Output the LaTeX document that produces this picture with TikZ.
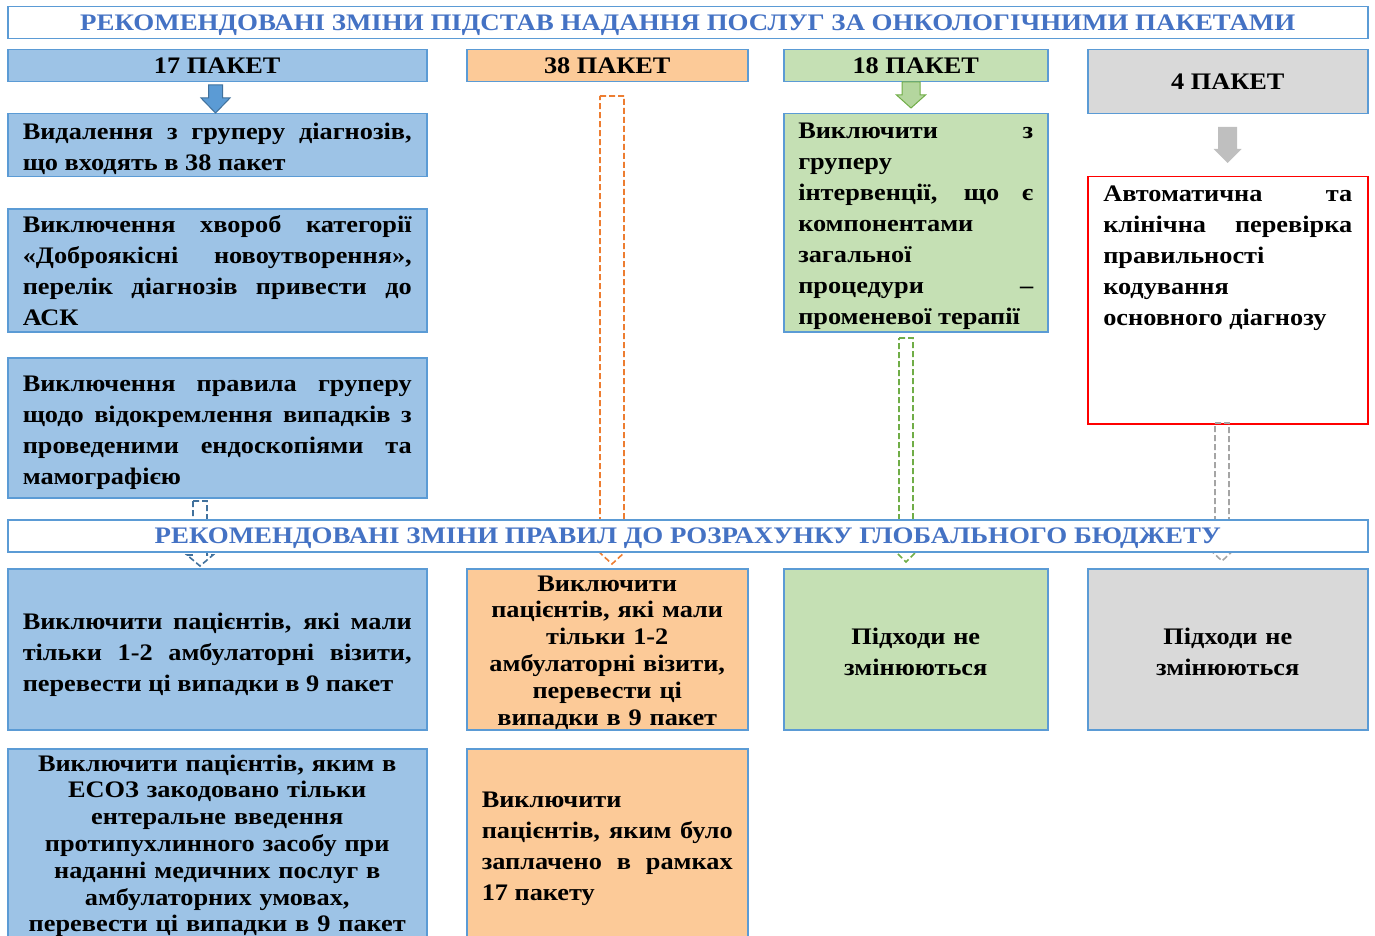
\documentclass[tikz,border=0pt]{standalone}
\usepackage{fontspec}
\setmainfont{Liberation Serif}[FakeStretch=1.11]
\usetikzlibrary{positioning,calc}
\definecolor{edgeblue}{HTML}{5B9BD5}
\definecolor{darkblue}{HTML}{41719C}
\definecolor{titleblue}{HTML}{4472C4}
\definecolor{fillblue}{HTML}{9DC3E6}
\definecolor{fillorange}{HTML}{FCCA98}
\definecolor{fillgreen}{HTML}{C5E0B4}
\definecolor{fillgray}{HTML}{D9D9D9}
\definecolor{dashorange}{HTML}{ED7D31}
\definecolor{dashgreen}{HTML}{70AD47}
\definecolor{dashgray}{HTML}{A5A5A5}
% block arrow pointing down: style, top, tip, shaft half, head half, head length
\newcommand\blockdown[6]{%
  \path[#1] let \p1=(#2), \p2=(#3) in
    (\x1-#4,\y1) -- (\x1+#4,\y1) -- (\x1+#4,\y2+#6) -- (\x1+#5,\y2+#6)
    -- (\x1,\y2) -- (\x1-#5,\y2+#6) -- (\x1-#4,\y2+#6) -- cycle;}

\begin{document}
\begin{tikzpicture}[x=1pt,y=-1pt,
  box/.style={draw=edgeblue,line width=1.5pt,anchor=north west,inner sep=0pt,
    font=\bfseries\fontsize{23.7}{31}\selectfont},
  down/.style={execute at begin node={\rule{0pt}{#1pt}}},
  head/.style={box,minimum height=32,font=\bfseries\fontsize{23.7}{28}\selectfont},
  banner/.style={box,fill=white,minimum width=1360,minimum height=32,text height=20pt,text depth=4pt,
    text=titleblue,font=\bfseries\fontsize{23.7}{28}\selectfont\addfontfeature{FakeStretch=1.135}},
  tight/.style={font=\bfseries\fontsize{23.7}{26.8}\selectfont},
  dasharrow/.style={line width=1.6pt,dash pattern=on 6pt off 3pt},
  solidarrow/.style={line width=1pt}]
\useasboundingbox (0,0) rectangle (1375,936);

% upper part
\node[banner] (t1) at (7,6) {РЕКОМЕНДОВАНІ ЗМІНИ ПІДСТАВ НАДАННЯ ПОСЛУГ ЗА ОНКОЛОГІЧНИМИ ПАКЕТАМИ};
\node[head,fill=fillblue,minimum width=419] (p17) at (7,49) {17 ПАКЕТ};
\node[head,fill=fillorange,minimum width=281] (p38) at (466,49) {38 ПАКЕТ};
\node[head,fill=fillgreen,minimum width=264] (p18) at (783,49) {18 ПАКЕТ};
\node[head,fill=fillgray,minimum width=280,minimum height=64] (p4) at (1087,49) {4 ПАКЕТ};

\node[box,down=23,fill=fillblue,minimum width=419,minimum height=63,text width=389,align=justify] (del) at (7,113)
  {Видалення з груперу діагнозів,\linebreak що входять в 38 пакет};
\node[box,fill=fillblue,minimum width=419,minimum height=123,text width=389,align=justify] (benign) at (7,208)
  {Виключення хвороб категорії\linebreak «Доброякісні новоутворення»,\linebreak перелік діагнозів привести до\linebreak АСК};
\node[box,down=25,fill=fillblue,minimum width=419,minimum height=140,text width=389,align=justify] (endo) at (7,357)
  {Виключення правила груперу\linebreak щодо відокремлення випадків з\linebreak проведеними ендоскопіями та\linebreak мамографією};
\node[box,down=23,fill=fillgreen,minimum width=264,minimum height=218,text width=235,align=justify] (ray) at (783,113)
  {Виключити з\linebreak груперу\linebreak інтервенції, що є\linebreak компонентами\linebreak загальної\linebreak процедури –\linebreak променевої терапії};
\node[box,draw=red,fill=white,minimum width=280,minimum height=247] (chk) at (1087,176) {};
\node[box,draw=none,text width=249,align=justify,anchor=north] (chktxt) at ($(chk.north)+(0,9)$)
  {Автоматична та\linebreak клінічна перевірка\linebreak правильності\linebreak кодування\linebreak основного діагнозу};

% arrows
\coordinate (a17) at (215.5,85);  \coordinate (b17) at (215.5,113);
\coordinate (a18) at (911,82);    \coordinate (b18) at (911,108);
\coordinate (a4) at (1227.5,127); \coordinate (b4) at (1227.5,163);
\blockdown{solidarrow,draw=darkblue,fill=edgeblue}{a17}{b17}{7}{14.5}{15}
\blockdown{solidarrow,draw=dashgreen,fill=fillgreen!80!dashgreen}{a18}{b18}{9}{14.5}{13}
\blockdown{fill=gray!50}{a4}{b4}{9.5}{14}{14}

\coordinate (o1) at (612,96);     \coordinate (o2) at (612,564);
\coordinate (g1) at (906,338);    \coordinate (g2) at (906,562);
\coordinate (s1) at (1222,423);   \coordinate (s2) at (1222,561);
\coordinate (e1) at (200,501);    \coordinate (e2) at (200,566);
\blockdown{dasharrow,draw=dashorange}{o1}{o2}{12}{14}{13}
\blockdown{dasharrow,draw=dashgreen}{g1}{g2}{7}{11}{11}
\blockdown{dasharrow,draw=dashgray}{s1}{s2}{7}{10.5}{10}
\blockdown{dasharrow,draw=darkblue}{e1}{e2}{7}{13}{11}

% lower part
\node[banner] (t2) at (7,519) {РЕКОМЕНДОВАНІ ЗМІНИ ПРАВИЛ ДО РОЗРАХУНКУ ГЛОБАЛЬНОГО БЮДЖЕТУ};
\node[box,down=27,fill=fillblue,minimum width=419,minimum height=161,text width=389,align=justify] (amb17) at (7,568)
  {Виключити пацієнтів, які мали\linebreak тільки 1-2 амбулаторні візити,\linebreak перевести ці випадки в 9 пакет};
\node[box,tight,down=22,fill=fillorange,minimum width=281,minimum height=161,text width=265,align=center] (amb38) at (466,568)
  {Виключити\\пацієнтів, які мали\\тільки 1-2\\амбулаторні візити,\\перевести ці\\випадки в 9 пакет};
\node[box,down=22,fill=fillgreen,minimum width=264,minimum height=161,text width=240,align=center] (same18) at (783,568)
  {Підходи не\\змінюються};
\node[box,down=22,fill=fillgray,minimum width=280,minimum height=161,text width=250,align=center] (same4) at (1087,568)
  {Підходи не\\змінюються};
\node[box,tight,fill=fillblue,minimum width=419,minimum height=194,text width=405,align=center] (ent17) at (7,748)
  {Виключити пацієнтів, яким в\\ЕСОЗ закодовано тільки\\ентеральне введення\\протипухлинного засобу при\\наданні медичних послуг в\\амбулаторних умовах,\\перевести ці випадки в 9 пакет};
\node[box,down=22,fill=fillorange,minimum width=281,minimum height=194,text width=251,align=justify] (paid38) at (466,748)
  {Виключити\linebreak пацієнтів, яким було\linebreak заплачено в рамках\linebreak 17 пакету};
\end{tikzpicture}
\end{document}
